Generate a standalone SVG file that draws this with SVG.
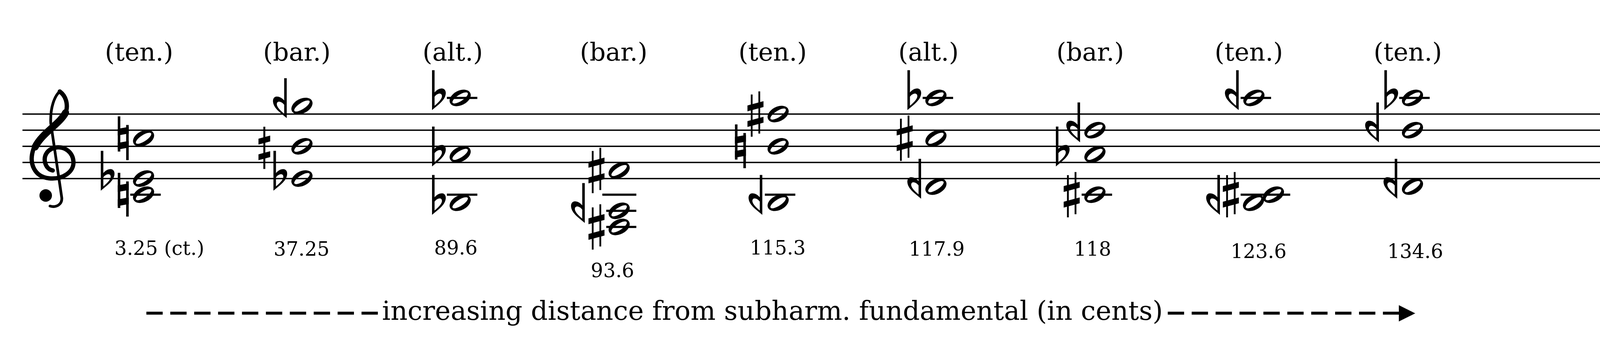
<svg xmlns="http://www.w3.org/2000/svg" xmlns:xlink="http://www.w3.org/1999/xlink" width="4233" height="908" viewBox="0 0 4233 908">
<style>
text{font-family:"DejaVu Serif","Liberation Serif",serif;fill:#000}
.lab{font-size:64px;text-anchor:middle}
.num{font-size:50px;text-anchor:middle}
.cap{font-size:68px}
.staff line{stroke:#000;stroke-width:3.6}
.clef path{fill:none;stroke:#000;stroke-linecap:round}
</style>
<defs>
<path id="nh" fill-rule="evenodd" d="M25.66,-13.07 A28.8,18.4 -27 1 0 -25.66,13.07 A28.8,18.4 -27 1 0 25.66,-13.07 Z M19.29,-12.53 A23,8 -33 1 0 -19.29,12.53 A23,8 -33 1 0 19.29,-12.53 Z"/>
<path id="fl" fill-rule="evenodd" d="M0,-71 L6.5,-71 L6.5,-14 C12,-21 20,-25 27,-24 C33,-23 36,-17 35,-10 C34,0 26,9 18,16 C12,21 6,26 0,31 Z M6.5,-3 C10,-8 16,-12 21,-11 C25,-10 26,-6 25,-2 C23,5 15,13 6.5,20 Z"/>
<g id="sf"><use xlink:href="#fl" href="#fl" transform="scale(-1,1)"/></g>
<g id="sh">
<rect x="-12" y="-50" width="4.6" height="108"/>
<rect x="7.5" y="-58" width="4.6" height="108"/>
<polygon points="-20.5,-22 20.5,-33 20.5,-18 -20.5,-7"/>
<polygon points="-20.5,18 20.5,7 20.5,22 -20.5,33"/>
</g>
<g id="na">
<rect x="-14" y="-56" width="6.5" height="90"/>
<rect x="7.5" y="-34" width="6.5" height="90"/>
<polygon points="-14,-24 14,-29 14,-12 -14,-7"/>
<polygon points="-14,12 14,7 14,24 -14,29"/>
</g>
<g id="ss">
<rect x="-2.5" y="-50" width="5" height="108"/>
<polygon points="-15,-19.5 15,-27.5 15,-12.5 -15,-4.5"/>
<polygon points="-15,20.5 15,12.5 15,27.5 -15,35.5"/>
</g>
<rect id="lg" x="-34" y="-2.75" width="78" height="5.5"/>
</defs>
<rect x="0" y="0" width="4233" height="908" fill="#fff"/>
<g id="staff" class="staff">
<line x1="57.5" y1="291.7" x2="4163" y2="291.7"/>
<line x1="57.5" y1="332.95" x2="4163" y2="332.95"/>
<line x1="57.5" y1="374.2" x2="4163" y2="374.2"/>
<line x1="57.5" y1="415.45" x2="4163" y2="415.45"/>
<line x1="57.5" y1="456.7" x2="4163" y2="456.7"/>
<rect id="barline" x="4162" y="289.9" width="22" height="168.6" fill="#000"/>
</g>
<g id="clef" class="clef">
<path d="M153,234 C140,245 128,275 130,315 L158,505 C160,522 145,532 128,527" stroke-width="7"/>
<path d="M153,234 C172,248 176,275 165,295 C150,322 100,345 86,380 C72,420 90,452 125,456 C160,460 190,440 188,413 C186,388 165,375 145,377 C122,380 110,398 116,418 C120,430 128,435 135,436" stroke-width="11"/>
<path d="M168,288 C152,318 108,340 90,376" stroke-width="18"/>
<circle cx="117" cy="500" r="16" fill="#000"/>
</g>
<g id="chord1">
<use href="#lg" x="367.5" y="497.95"/>
<use href="#nh" x="367.5" y="353.6"/>
<use href="#nh" x="367.5" y="456.7"/>
<use href="#nh" x="367.5" y="497.95"/>
<use href="#na" x="315.5" y="353.6"/>
<use href="#na" x="315.5" y="497.95"/>
<use href="#fl" x="258" y="456.7"/>
</g>
<g id="chord2">
<use href="#nh" x="773" y="271.1"/>
<use href="#nh" x="773" y="374.2"/>
<use href="#nh" x="773" y="456.7"/>
<use href="#sf" x="734" y="271.1"/>
<use href="#ss" x="676.7" y="374.2"/>
<use href="#fl" x="700" y="456.7"/>
</g>
<g id="chord3">
<use href="#lg" x="1178" y="250.45"/>
<use href="#lg" x="1178" y="497.95"/>
<use href="#nh" x="1178" y="250.45"/>
<use href="#nh" x="1178" y="394.8"/>
<use href="#nh" x="1178" y="518.6"/>
<use href="#fl" x="1106" y="250.45"/>
<use href="#fl" x="1106" y="394.8"/>
<use href="#fl" x="1106" y="518.6"/>
</g>
<g id="chord4">
<rect x="1542" y="495.2" width="87" height="5.5"/>
<rect x="1552" y="536.45" width="77" height="5.5"/>
<rect x="1552" y="577.7" width="77" height="5.5"/>
<use href="#nh" x="1585" y="436.1"/>
<use href="#nh" x="1585" y="539.2"/>
<use href="#nh" x="1585" y="580.45"/>
<use href="#sh" x="1527" y="436.1"/>
<use href="#sf" x="1497" y="539.2"/>
<use href="#sh" x="1527" y="580.45"/>
</g>
<g id="chord5">
<use href="#lg" x="1992" y="497.95"/>
<use href="#nh" x="1992" y="291.7"/>
<use href="#nh" x="1992" y="374.2"/>
<use href="#nh" x="1992" y="518.6"/>
<use href="#sh" x="1934" y="291.7"/>
<use href="#na" x="1895.5" y="374.2"/>
<use href="#sf" x="1951.5" y="518.6"/>
</g>
<g id="chord6">
<use href="#lg" x="2396" y="250.45"/>
<use href="#nh" x="2396" y="250.45"/>
<use href="#nh" x="2396" y="353.6"/>
<use href="#nh" x="2396" y="477.3"/>
<use href="#fl" x="2323" y="250.45"/>
<use href="#sh" x="2316" y="353.6"/>
<use href="#sf" x="2358" y="477.3"/>
</g>
<g id="chord7">
<use href="#lg" x="2803" y="497.95"/>
<use href="#nh" x="2803" y="332.95"/>
<use href="#nh" x="2803" y="394.8"/>
<use href="#nh" x="2803" y="497.95"/>
<use href="#sf" x="2765" y="332.95"/>
<use href="#fl" x="2703" y="394.8"/>
<use href="#sh" x="2743.5" y="497.95"/>
</g>
<g id="chord8">
<use href="#lg" x="3210" y="250.45"/>
<rect x="3176" y="495.2" width="127" height="5.5"/>
<use href="#nh" x="3210" y="250.45"/>
<use href="#nh" x="3209" y="518.6"/>
<use href="#nh" x="3260" y="497.95"/>
<use href="#sf" x="3171" y="250.45"/>
<use href="#sf" x="3123" y="518.6"/>
<use href="#sh" x="3151" y="497.95"/>
</g>
<g id="chord9">
<use href="#lg" x="3616" y="250.45"/>
<use href="#nh" x="3616" y="250.45"/>
<use href="#nh" x="3616" y="332.95"/>
<use href="#nh" x="3616" y="477.3"/>
<use href="#fl" x="3544" y="250.45"/>
<use href="#sf" x="3530" y="332.95"/>
<use href="#sf" x="3577" y="477.3"/>
</g>
<g id="labels">
<text class="lab" x="356" y="155">(ten.)</text>
<text class="lab" x="760" y="155">(bar.)</text>
<text class="lab" x="1159" y="155">(alt.)</text>
<text class="lab" x="1571" y="155">(bar.)</text>
<text class="lab" x="1978" y="155">(ten.)</text>
<text class="lab" x="2377" y="155">(alt.)</text>
<text class="lab" x="2791" y="155">(bar.)</text>
<text class="lab" x="3197" y="155">(ten.)</text>
<text class="lab" x="3604" y="155">(ten.)</text>
</g>
<g id="numbers">
<text class="num" x="408" y="651.5">3.25 (ct.)</text>
<text class="num" x="772" y="654">37.25</text>
<text class="num" x="1167" y="651">89.6</text>
<text class="num" x="1568" y="709">93.6</text>
<text class="num" x="1991" y="651">115.3</text>
<text class="num" x="2398" y="654">117.9</text>
<text class="num" x="2797" y="654">118</text>
<text class="num" x="3222" y="660">123.6</text>
<text class="num" x="3623" y="660">134.6</text>
</g>
<g id="connectors">
<path d="M374.7,801 H967.3" stroke="#000" stroke-width="7.3" stroke-dasharray="41.8 19.4" fill="none"/>
<path d="M2989.5,801 H3582" stroke="#000" stroke-width="7.3" stroke-dasharray="41.8 19.4" fill="none"/>
<polygon points="3581,780.6 3623,801.5 3581,822.3" fill="#000"/>
</g>
<g id="caption">
<text class="cap" x="978" y="818" textLength="1999" lengthAdjust="spacingAndGlyphs">increasing distance from subharm. fundamental (in cents)</text>
</g>
</svg>
